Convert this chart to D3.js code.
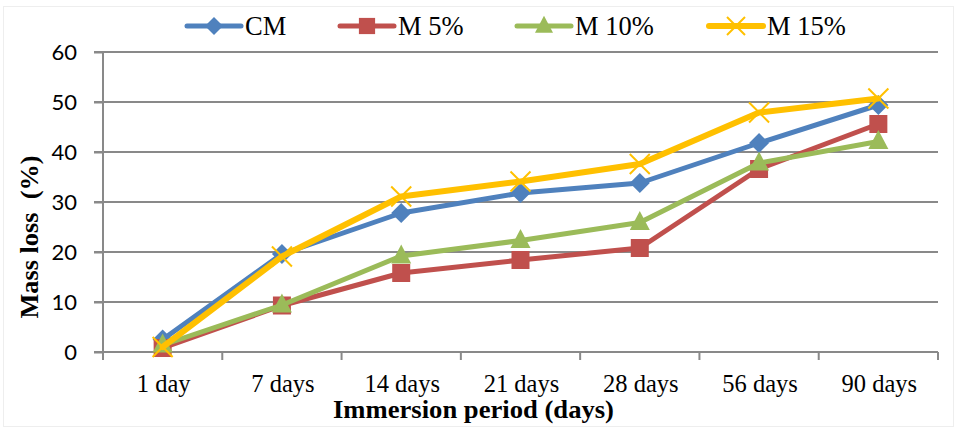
<!DOCTYPE html>
<html>
<head>
<meta charset="utf-8">
<script src="https://cdn.jsdelivr.net/npm/d3@7/dist/d3.min.js"></script>
<style>
  html, body { margin: 0; padding: 0; background: #fff; }
  svg { display: block; }
</style>
</head>
<body>
<svg id="chart" width="955" height="428"></svg>
<script>
const categories = ["1 day", "7 days", "14 days", "21 days", "28 days", "56 days", "90 days"];
const seriesNames = ["CM", "M 5%", "M 10%", "M 15%"];
const cmValues   = [2.5, 19.6, 27.8, 31.8, 33.8, 41.8, 49.4];
const m5Values   = [0.8, 9.3, 15.8, 18.4, 20.8, 36.6, 45.6];
const m10Values  = [1.4, 9.4, 19.2, 22.3, 25.9, 37.8, 42.1];
const m15Values  = [1.0, 19.1, 31.1, 34.1, 37.6, 47.9, 50.7];
const yTicks = [0, 10, 20, 30, 40, 50, 60];

const colors = ["#4F81BD", "#C0504D", "#9BBB59", "#FFC000"];
const markers = ["diamond", "square", "triangle", "x"];
const allValues = [cmValues, m5Values, m10Values, m15Values];

const svg = d3.select("#chart");

// faint outer border
svg.append("rect").attr("x", 3.5).attr("y", 6.5).attr("width", 950).attr("height", 420)
  .attr("fill", "none").attr("stroke", "#eeeeee").attr("stroke-width", 1);

const x = d3.scaleBand().domain(categories).range([103, 938]).padding(0);
const y = d3.scaleLinear().domain([0, 60]).range([352, 52]);
const cx = c => x(c) + x.bandwidth() / 2;

const gridColor = "#898989";

// gridlines
svg.append("g").selectAll("line").data(yTicks.filter(t => t > 0)).join("line")
  .attr("x1", 94).attr("x2", 938)
  .attr("y1", d => y(d)).attr("y2", d => y(d))
  .attr("stroke", gridColor).attr("stroke-width", 2);

// y axis
const yAxis = svg.append("g").attr("transform", "translate(103,0)")
  .call(d3.axisLeft(y).tickValues(yTicks).tickSize(9).tickPadding(17).tickFormat(d3.format("d")));
yAxis.select(".domain").attr("stroke", gridColor).attr("stroke-width", 2).attr("d", "M0,52V352");
yAxis.selectAll(".tick line").attr("stroke", gridColor).attr("stroke-width", 2);
yAxis.selectAll(".tick text").attr("font-family", "Lato, 'Open Sans', sans-serif")
  .attr("font-size", 22).attr("fill", "#000").attr("dy", "0.36em");

// x axis
const bounds = categories.map(c => x(c)).concat([x.range()[1]]);
svg.append("line").attr("x1", 94).attr("x2", 938).attr("y1", y(0)).attr("y2", y(0))
  .attr("stroke", gridColor).attr("stroke-width", 2);
svg.append("g").selectAll("line").data(bounds).join("line")
  .attr("x1", d => d).attr("x2", d => d).attr("y1", y(0)).attr("y2", y(0) + 8)
  .attr("stroke", gridColor).attr("stroke-width", 2);
svg.append("g").selectAll("text").data(categories).join("text")
  .attr("x", d => cx(d) + 1).attr("y", 392)
  .attr("text-anchor", "middle")
  .attr("font-family", "'Liberation Serif', 'Times New Roman', serif")
  .attr("font-size", 24.5).attr("fill", "#000")
  .text(d => d);

// axis titles
svg.append("text").attr("x", 473.5).attr("y", 418).attr("text-anchor", "middle")
  .attr("font-family", "'Liberation Serif', 'Times New Roman', serif")
  .attr("font-weight", "bold").attr("font-size", 25).attr("fill", "#000")
  .attr("textLength", 281).attr("lengthAdjust", "spacingAndGlyphs")
  .text("Immersion period (days)");
svg.append("text")
  .attr("transform", "translate(38,237) rotate(-90)")
  .attr("text-anchor", "middle")
  .attr("font-family", "'Liberation Serif', 'Times New Roman', serif")
  .attr("font-weight", "bold").attr("font-size", 25).attr("fill", "#000")
  .attr("textLength", 163).attr("lengthAdjust", "spacingAndGlyphs")
  .style("white-space", "pre")
  .text("Mass loss  (%)");

function drawMarker(g, type, px, py, color, scale = 1) {
  if (type === "diamond") {
    const r = 10 * scale;
    g.append("path").attr("d", `M${px},${py - r}L${px + r},${py}L${px},${py + r}L${px - r},${py}Z`)
      .attr("fill", color);
  } else if (type === "square") {
    const s = 18 * scale;
    g.append("rect").attr("x", px - s / 2).attr("y", py - s / 2).attr("width", s).attr("height", s)
      .attr("fill", color);
  } else if (type === "triangle") {
    const w = 20 * scale, h = 19 * scale;
    g.append("path").attr("d", `M${px},${py - h * 0.6}L${px + w / 2},${py + h * 0.4}L${px - w / 2},${py + h * 0.4}Z`)
      .attr("fill", color);
  } else if (type === "x") {
    const r = 10 * scale;
    g.append("path").attr("d", `M${px - r},${py - r}L${px + r},${py + r}M${px - r},${py + r}L${px + r},${py - r}`)
      .attr("stroke", color).attr("stroke-width", 2).attr("fill", "none");
  }
}

const line = d3.line().x((d, i) => cx(categories[i])).y(d => y(d));

allValues.forEach((vals, si) => {
  const g = svg.append("g");
  g.append("path").datum(vals).attr("d", line)
    .attr("fill", "none").attr("stroke", colors[si])
    .attr("stroke-width", si === 3 ? 6 : 5)
    .attr("stroke-linejoin", "round").attr("stroke-linecap", "round");
  vals.forEach((v, i) => drawMarker(g, markers[si], cx(categories[i]), y(v), colors[si]));
});

// legend
const legendX = [187, 340, 517, 709];
seriesNames.forEach((name, si) => {
  const g = svg.append("g");
  const x0 = legendX[si], ly = 26;
  g.append("line").attr("x1", x0).attr("x2", x0 + 54).attr("y1", ly).attr("y2", ly)
    .attr("stroke", colors[si]).attr("stroke-width", si === 3 ? 6 : 5).attr("stroke-linecap", "round");
  drawMarker(g, markers[si], x0 + 27, ly, colors[si], 0.9);
  g.append("text").attr("x", x0 + 58).attr("y", 35)
    .attr("font-family", "'Liberation Serif', 'Times New Roman', serif")
    .attr("font-size", 26.5).attr("fill", "#000")
    .text(name);
});
</script>
</body>
</html>
